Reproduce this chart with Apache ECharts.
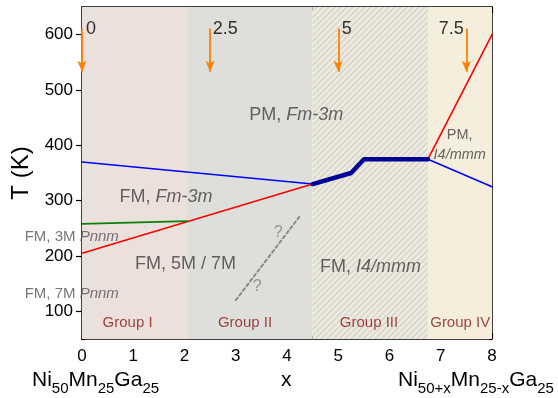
<!DOCTYPE html>
<html>
<head>
<meta charset="utf-8">
<script src="https://cdn.jsdelivr.net/npm/echarts@6/dist/echarts.min.js"></script>
<style>
html,body{margin:0;padding:0;background:#fff;}
#chart{width:558px;height:398px;}
</style>
</head>
<body>
<div id="chart"></div>
<script>
// ---- data ----
const xRange = [0, 8];
const yRange = [50, 650];
const yLabelValues = [100, 200, 300, 400, 500, 600];
const groupBounds = [0, 2.05, 4.5, 6.75, 8];
const groupNames = ['Group I', 'Group II', 'Group III', 'Group IV'];
const groupLabelX = [0.89, 3.18, 5.6, 7.38];
const groupLabelY = 80;
const blueUpper1 = [[0, 370], [4.5, 330]];
const blueThick = [[4.5, 330], [5.25, 350], [5.5, 375], [6.75, 375]];
const blueUpper2 = [[6.75, 375], [8, 325]];
const redLower = [[0, 205], [4.5, 330]];
const redUpper = [[6.75, 375], [8, 600]];
const green = [[0, 258], [2.05, 263]];
const dashedGuess = [[3, 120], [4.25, 272]];
const arrowX = [0, 2.5, 5, 7.5];
const arrowLabels = ['0', '2.5', '5', '7.5'];
const arrowTop = 611;
const arrowTip = 533;
// formula parts: [text, isSubscript]
const leftFormula = [['Ni', 0], ['50', 1], ['Mn', 0], ['25', 1], ['Ga', 0], ['25', 1]];
const rightFormula = [['Ni', 0], ['50+x', 1], ['Mn', 0], ['25-x', 1], ['Ga', 0], ['25', 1]];

// ---- styling ----
const FONT = '"Liberation Sans", Arial, Helvetica, sans-serif';
const groupColors = ['#EBE0DB', '#DEDFDA', null, '#F5EEDC'];

function hatchPattern() {
  const c = document.createElement('canvas');
  const s = 6;
  c.width = s; c.height = s;
  const g = c.getContext('2d');
  g.fillStyle = '#F4EEDF';
  g.fillRect(0, 0, s, s);
  g.strokeStyle = '#DBDAD3';
  g.lineWidth = 2.4;
  g.beginPath();
  g.moveTo(-s, s); g.lineTo(s, -s);
  g.moveTo(0, s); g.lineTo(s, 0);
  g.moveTo(0, 2 * s); g.lineTo(2 * s, 0);
  g.stroke();
  return { image: c, repeat: 'repeat' };
}

const areas = groupNames.map((n, i) => [
  { xAxis: groupBounds[i], itemStyle: { color: groupColors[i] || hatchPattern() } },
  { xAxis: groupBounds[i + 1] }
]);

// annotations: [text, x, y, align, fontSize, color]
const annotations = [
  ['PM, {i|Fm-3m}', 4.18, 455, 'center', 18, '#404040'],
  ['FM, {i|Fm-3m}', 1.64, 306, 'center', 18, '#404040'],
  ['FM, 3M {i|Pnnm}', -0.2, 234, 'center', 15, '#555555'],
  ['FM, 7M {i|Pnnm}', -0.2, 132, 'center', 15, '#555555'],
  ['FM, 5M / 7M', 2.02, 186, 'center', 18, '#404040'],
  ['FM, {i|I4/mmm}', 5.63, 180, 'center', 18, '#404040'],
  ['PM,', 7.37, 419, 'center', 14.5, '#404040'],
  ['{i|I4/mmm}', 7.37, 383, 'center', 14.5, '#404040'],
  ['?', 3.83, 243, 'center', 16, '#808080'],
  ['?', 3.42, 144, 'center', 16, '#808080']
];
groupNames.forEach((n, i) => annotations.push([n, groupLabelX[i], groupLabelY, 'center', 15, '#8B1414']));
const arrowLabelX = [0.08, 2.55, 5.07, 7.45];
const arrowAlign = ['left', 'left', 'left', 'right'];
arrowLabels.forEach((t, i) => annotations.push([t, arrowLabelX[i], 610, arrowAlign[i], 18, '#000']));

function lineSeries(data, color, width, type) {
  return {
    type: 'line', data: data, xAxisIndex: 0, yAxisIndex: 0,
    symbol: 'none', silent: true, z: 3,
    lineStyle: { color: color, width: width, type: type || 'solid', cap: 'round', join: 'round' }
  };
}

// build formula text elements with subscripts
const measureCtx = document.createElement('canvas').getContext('2d');
function formula(parts, left, baseline) {
  const out = [];
  let x = left;
  parts.forEach(p => {
    const size = p[1] ? 15 : 21;
    const font = size + 'px ' + FONT;
    measureCtx.font = font;
    const w = measureCtx.measureText(p[0]).width;
    const base = p[1] ? baseline + 5 : baseline;
    out.push({
      type: 'text', x: x, y: base, silent: true,
      style: { text: p[0], font: font, fill: '#000', verticalAlign: 'bottom', textVerticalAlign: 'bottom' }
    });
    x += w;
  });
  return out;
}
// 'bottom' of a text box sits about 0.21em below the baseline
const baseL = 386.5 + 21 * 0.21;

const axisLineStyle = { show: true, onZero: false, lineStyle: { color: '#000', width: 1.5 } };

const option = {
  animation: false,
  backgroundColor: '#fff',
  textStyle: { fontFamily: FONT },
  grid: { left: 82, right: 66, top: 7, bottom: 59 },
  xAxis: [
    {
      type: 'value', position: 'bottom', min: xRange[0], max: xRange[1], interval: 1,
      axisLine: axisLineStyle,
      axisTick: { show: true, inside: true, length: 6, lineStyle: { color: '#000', width: 1.2 } },
      minorTick: { show: true, splitNumber: 2, length: 3, lineStyle: { color: '#000', width: 1.2 } },
      axisLabel: { fontSize: 17, color: '#000', margin: 9, fontFamily: FONT },
      splitLine: { show: false }
    },
    {
      type: 'value', position: 'top', min: xRange[0], max: xRange[1], interval: 1,
      axisLine: axisLineStyle,
      axisTick: { show: true, inside: true, length: 6, lineStyle: { color: '#000', width: 1.2 } },
      minorTick: { show: true, splitNumber: 2, length: 3, lineStyle: { color: '#000', width: 1.2 } },
      axisLabel: { show: false },
      splitLine: { show: false }
    }
  ],
  yAxis: [
    {
      type: 'value', position: 'left', min: yRange[0], max: yRange[1], interval: 50,
      axisLine: axisLineStyle,
      axisTick: { show: true, inside: true, length: 3, lineStyle: { color: '#000', width: 1.2 } },
      axisLabel: {
        fontSize: 17, color: '#000', margin: 9, fontFamily: FONT,
        formatter: v => (yLabelValues.indexOf(v) >= 0 ? String(v) : '')
      },
      splitLine: { show: false },
      name: 'T (K)', nameLocation: 'middle', nameGap: 44, nameRotate: 90,
      nameTextStyle: { fontSize: 24, color: '#000', fontFamily: FONT }
    },
    {
      type: 'value', position: 'left', min: yRange[0], max: yRange[1],
      axisLine: { show: false },
      axisTick: { show: true, inside: true, length: 6, customValues: yLabelValues, lineStyle: { color: '#000', width: 1.2 } },
      axisLabel: { show: false }, splitLine: { show: false }
    },
    {
      type: 'value', position: 'right', min: yRange[0], max: yRange[1], interval: 50,
      axisLine: axisLineStyle,
      axisTick: { show: true, inside: true, length: 3, lineStyle: { color: '#000', width: 1.2 } },
      axisLabel: { show: false }, splitLine: { show: false }
    },
    {
      type: 'value', position: 'right', min: yRange[0], max: yRange[1],
      axisLine: { show: false },
      axisTick: { show: true, inside: true, length: 6, customValues: yLabelValues, lineStyle: { color: '#000', width: 1.2 } },
      axisLabel: { show: false }, splitLine: { show: false }
    }
  ],
  series: [
    {
      type: 'line', data: [], xAxisIndex: 0, yAxisIndex: 0, silent: true, z: 1,
      markArea: { silent: true, label: { show: false }, data: areas }
    },
    lineSeries(blueUpper1, '#0000FF', 1.6),
    lineSeries(blueUpper2, '#0000FF', 1.6),
    lineSeries(redLower, '#FF0000', 1.6),
    lineSeries(redUpper, '#FF0000', 1.6),
    lineSeries(green, '#0B800B', 1.6),
    lineSeries(dashedGuess, '#888888', 2, [3, 3]),
    lineSeries(blueThick, '#000096', 4.5),
    {
      type: 'line', data: [], xAxisIndex: 0, yAxisIndex: 0, silent: true, z: 4,
      markLine: {
        silent: true, symbol: ['none', 'arrow'], symbolSize: [7, 11],
        label: { show: false },
        lineStyle: { color: '#FF8000', width: 1.8, type: 'solid' },
        data: arrowX.map(x => [{ coord: [x, arrowTop] }, { coord: [x, arrowTip] }])
      }
    },
    {
      type: 'scatter', xAxisIndex: 0, yAxisIndex: 0, symbolSize: 0, silent: true, clip: false, z: 5,
      data: annotations.map(a => ({
        value: [a[1], a[2]],
        label: {
          show: true, position: 'inside', formatter: a[0], align: a[3], verticalAlign: 'middle',
          fontSize: a[4], color: a[5], fontFamily: FONT,
          rich: { i: { fontStyle: 'italic', fontSize: a[4], color: a[5], fontFamily: FONT } }
        }
      }))
    }
  ],
  graphic: [
    { type: 'group', children: formula(leftFormula, 32, baseL) },
    { type: 'group', children: formula([['x', 0]], 281, baseL) },
    { type: 'group', children: formula(rightFormula, 398, baseL) }
  ]
};

const chart = echarts.init(document.getElementById('chart'), null, { renderer: 'canvas' });
chart.setOption(option);
</script>
</body>
</html>
